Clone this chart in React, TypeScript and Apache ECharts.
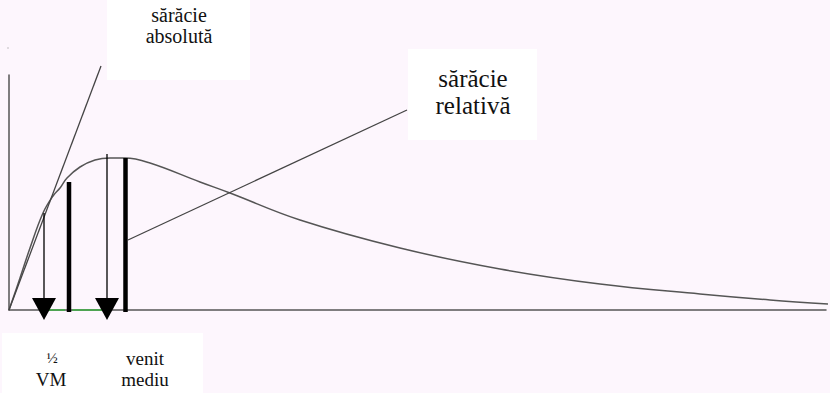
import React, { useEffect, useRef } from "react";
import * as echarts from "echarts";

// Income (x) vs. population density (y), arbitrary units
const curveX = [0, 11, 21, 34, 44, 51, 58, 71, 86, 101, 116, 141, 191, 221, 291, 391, 491, 591, 691, 761, 819];
const curveY = [0, 32, 62, 97, 114, 122, 132, 143, 150, 152, 152, 147, 128, 117, 90, 62, 41, 26, 16, 10, 6];

const absoluteLine = [[0, 0], [92, 244]];
const relativeLine = [[119, 70], [398, 200]];

// thin arrows: x, top y
const arrowX = [35, 98];
const arrowTop = [97, 156];
const arrowTipY = 1;

// thick bars: x, top y
const barX = [60, 116.5];
const barTop = [128, 152];

// green segments on the x axis
const greenSegments = [[40, 56], [63, 93]];

const labelAbsolute = ["sărăcie", "absolută"];
const labelRelative = ["sărăcie", "relativă"];
const labelHalf = ["½", "VM"];
const labelMean = ["venit", "mediu"];

export default function App() {
  const ref = useRef<HTMLDivElement>(null);

  useEffect(() => {
    if (!ref.current) return;
    const chart = echarts.init(ref.current, null, { renderer: "svg" });

    const series: any[] = [];
    series.push({
      type: "line",
      data: curveX.map((x, i) => [x, curveY[i]]),
      smooth: 0.4,
      symbol: "none",
      clip: false,
      lineStyle: { color: "#555", width: 1.5 },
      z: 3,
    });
    series.push({
      type: "line",
      data: absoluteLine,
      symbol: "none",
      clip: false,
      lineStyle: { color: "#444", width: 1.3 },
      z: 3,
    });
    series.push({
      type: "line",
      data: relativeLine,
      symbol: "none",
      clip: false,
      lineStyle: { color: "#444", width: 1.3 },
      z: 3,
    });
    greenSegments.forEach((s) => {
      series.push({
        type: "line",
        data: [[s[0], 0], [s[1], 0]],
        symbol: "none",
        clip: false,
        lineStyle: { color: "#3cb043", width: 1.5 },
        z: 4,
      });
    });
    barX.forEach((x, i) => {
      series.push({
        type: "line",
        data: [[x, -2], [x, barTop[i]]],
        symbol: "none",
        clip: false,
        lineStyle: { color: "#000", width: 4.5 },
        z: 5,
      });
    });
    arrowX.forEach((x, i) => {
      series.push({
        type: "line",
        data: [[x, arrowTop[i]], [x, arrowTipY + 5]],
        symbol: "none",
        clip: false,
        lineStyle: { color: "#000", width: 1.3 },
        z: 5,
      });
    });
    series.push({
      type: "scatter",
      data: arrowX.map((x) => [x, arrowTipY]),
      symbol: "triangle",
      symbolSize: [24, 22],
      symbolRotate: 180,
      clip: false,
      itemStyle: { color: "#000", opacity: 1 },
      z: 6,
    });

    const textStyle = (size: number) => ({
      fill: "#111",
      fontSize: size,
      fontFamily: "Liberation Serif",
      align: "center",
      verticalAlign: "middle",
    });

    chart.setOption({
      animation: false,
      backgroundColor: "#fdf6fd",
      grid: { left: 9, top: 75, width: 817, height: 235 },
      xAxis: {
        type: "value",
        min: 0,
        max: 817,
        axisLine: { show: true, lineStyle: { color: "#555", width: 1.5 } },
        axisTick: { show: false },
        axisLabel: { show: false },
        splitLine: { show: false },
      },
      yAxis: {
        type: "value",
        min: 0,
        max: 235,
        axisLine: { show: true, lineStyle: { color: "#555", width: 1.5 } },
        axisTick: { show: false },
        axisLabel: { show: false },
        splitLine: { show: false },
      },
      series,
      graphic: [
        { type: "rect", shape: { x: 7.5, y: 47.5, width: 1, height: 1 }, style: { fill: "#888" }, z: 1 },
        { type: "rect", shape: { x: 107, y: 0, width: 143, height: 80 }, style: { fill: "#ffffff" }, z: 1 },
        { type: "text", x: 179, y: 15, style: { text: labelAbsolute[0], ...textStyle(20) }, z: 2 },
        { type: "text", x: 179, y: 36, style: { text: labelAbsolute[1], ...textStyle(20) }, z: 2 },
        { type: "rect", shape: { x: 408, y: 49, width: 129, height: 91 }, style: { fill: "#ffffff" }, z: 1 },
        { type: "text", x: 473, y: 78, style: { text: labelRelative[0], ...textStyle(25) }, z: 2 },
        { type: "text", x: 473, y: 105, style: { text: labelRelative[1], ...textStyle(25) }, z: 2 },
        { type: "rect", shape: { x: 2, y: 333, width: 201, height: 60 }, style: { fill: "#ffffff" }, z: 1 },
        { type: "text", x: 52, y: 358, style: { text: labelHalf[0], ...textStyle(15) }, z: 2 },
        { type: "text", x: 51, y: 379, style: { text: labelHalf[1], ...textStyle(19) }, z: 2 },
        { type: "text", x: 145, y: 358, style: { text: labelMean[0], ...textStyle(19) }, z: 2 },
        { type: "text", x: 145, y: 379, style: { text: labelMean[1], ...textStyle(19) }, z: 2 },
      ],
    });

    return () => chart.dispose();
  }, []);

  return (
    <div
      ref={ref}
      style={{ position: "absolute", left: 0, top: 0, width: 830, height: 393 }}
    />
  );
}
